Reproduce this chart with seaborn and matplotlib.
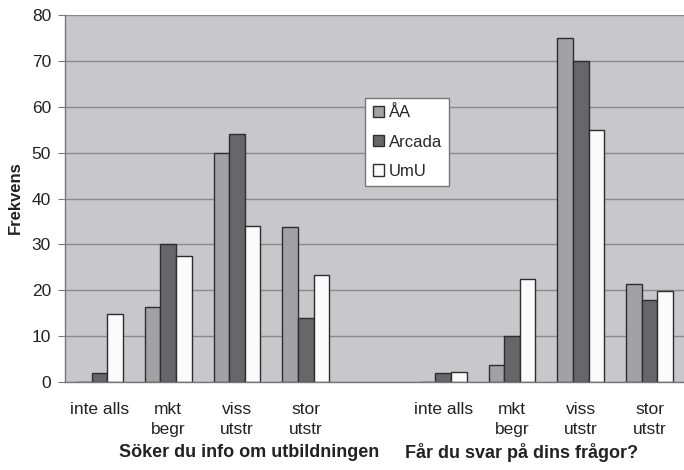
import pandas as pd
import seaborn as sns
import matplotlib.pyplot as plt

# category slots (one empty slot between the two questions)
slots = ["s1", "s2", "s3", "s4", "gap", "s5", "s6", "s7", "s8"]
tick_labels = ["inte alls", "mkt\nbegr", "viss\nutstr", "stor\nutstr", "",
               "inte alls", "mkt\nbegr", "viss\nutstr", "stor\nutstr"]
data_slots = ["s1", "s2", "s3", "s4", "s5", "s6", "s7", "s8"]
schools = ["ÅA", "Arcada", "UmU"]

aa = [0, 16.3, 50, 33.8, 0, 3.8, 75, 21.3]
arcada = [2, 30, 54, 14, 2, 10, 70, 18]
umu = [14.8, 27.5, 34, 23.3, 2.3, 22.5, 55, 19.8]

group_titles = ["Söker du info om utbildningen", "Får du svar på dins frågor?"]

df = pd.DataFrame({
    "slot": data_slots * 3,
    "school": [s for s in schools for _ in data_slots],
    "freq": aa + arcada + umu,
})

sns.set_style("white")
plt.rcParams["font.family"] = ["Liberation Sans", "DejaVu Sans"]

fig = plt.figure(figsize=(6.84, 4.70), dpi=100)
ax = fig.add_axes([0.095, 0.187, 0.905, 0.781])
ax.set_facecolor("#c8c8ca")

palette = {"ÅA": "#a2a2a6", "Arcada": "#676769", "UmU": "#fbfbfb"}
sns.barplot(data=df, x="slot", y="freq", hue="school", order=slots,
            hue_order=schools, palette=palette, width=0.68,
            edgecolor="#2e2e2e", linewidth=1.0, saturation=1, ax=ax)

ax.set_ylim(0, 80)
ax.set_yticks(range(0, 81, 10))
ax.yaxis.grid(True, color="#8a8a8a", linewidth=1)
ax.set_axisbelow(True)
ax.set_xlim(-0.5, 8.385)

ax.set_xticks(range(len(slots)))
ax.set_xticklabels(tick_labels, fontsize=12.5, color="#222222", linespacing=1.45)
ax.set_xticks([k - 0.5 for k in range(len(slots) + 1)], minor=True)
ax.tick_params(axis="x", which="major", length=0, pad=14)
ax.tick_params(axis="x", which="minor", length=5, color="#777777", direction="out")
ax.tick_params(axis="y", length=5, color="#777777", labelsize=12.5, pad=5,
               labelcolor="#222222", left=True, direction="out")

for side in ["top", "right"]:
    ax.spines[side].set_visible(False)
for side in ["left", "bottom"]:
    ax.spines[side].set_color("#777777")
    ax.spines[side].set_linewidth(1)

ax.set_xlabel("")
ax.set_ylabel("")
fig.text(0.022, 0.58, "Frekvens", rotation=90, ha="center", va="center",
         fontsize=12, fontweight="bold", color="#222222")

fig.text(0.364, 0.038, group_titles[0], ha="center", va="center", fontsize=13,
         fontweight="bold", color="#222222")
fig.text(0.763, 0.038, group_titles[1], ha="center", va="center", fontsize=13,
         fontweight="bold", color="#222222")

leg = ax.legend(title=None, loc="upper left", bbox_to_anchor=(0.485, 0.774),
                borderaxespad=0, fontsize=12, frameon=True, fancybox=False,
                handlelength=0.65, handleheight=0.65, handletextpad=0.3,
                labelspacing=0.85, borderpad=0.45)
leg.get_frame().set_edgecolor("#777777")
leg.get_frame().set_facecolor("white")
leg.get_frame().set_alpha(1)

fig.savefig("out.png", dpi=100)
